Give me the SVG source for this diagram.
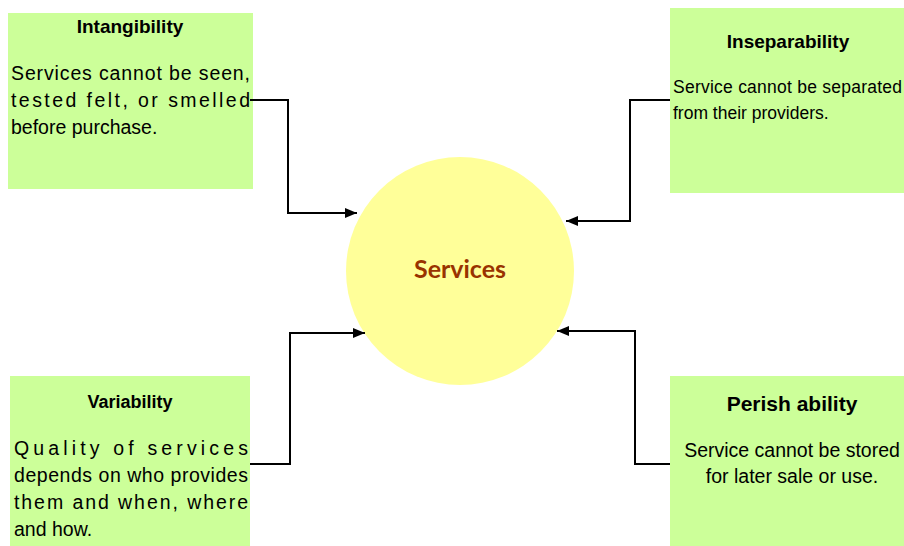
<svg xmlns="http://www.w3.org/2000/svg" width="904" height="546" viewBox="0 0 904 546">
<style>
.box{fill:#CCFF99;}
.t{font-family:"Liberation Sans",Arial,sans-serif;fill:#000;}
.b{font-weight:bold;}
.conn{fill:none;stroke:#000;stroke-width:2;}
</style>
<defs>
<marker id="arr" markerWidth="12" markerHeight="10" refX="12" refY="5" orient="auto" markerUnits="userSpaceOnUse">
<path d="M0,0 L12,5 L0,10 Z" fill="#000"/>
</marker>
</defs>
<rect width="904" height="546" fill="#fff"/>
<g id="services">
<circle cx="460" cy="271" r="114" fill="#FFFF99"/>
<text x="460" y="278" text-anchor="middle" font-family="Lato,'Open Sans',sans-serif" font-weight="bold" font-size="25" fill="#993300">Services</text>
</g>
<g id="intangibility">
<rect class="box" x="8" y="13" width="245" height="176"/>
<text class="t b" x="130" y="33" text-anchor="middle" font-size="19">Intangibility</text>
<text class="t" x="11" y="80" font-size="19.5" textLength="239" lengthAdjust="spacing">Services cannot be seen,</text>
<text class="t" x="11" y="107" font-size="19.5" textLength="239" lengthAdjust="spacing">tested felt, or smelled</text>
<text class="t" x="11" y="134" font-size="19.5">before purchase.</text>
</g>
<g id="inseparability">
<rect class="box" x="670" y="8" width="234" height="185"/>
<text class="t b" x="788" y="48" text-anchor="middle" font-size="19">Inseparability</text>
<text class="t" x="673" y="93" font-size="17.5" textLength="229" lengthAdjust="spacing">Service cannot be separated</text>
<text class="t" x="673" y="119" font-size="17.5">from their providers.</text>
</g>
<g id="variability">
<rect class="box" x="10" y="376" width="240" height="170"/>
<text class="t b" x="130" y="408" text-anchor="middle" font-size="18">Variability</text>
<text class="t" x="14" y="455" font-size="19.5" textLength="234" lengthAdjust="spacing">Quality of services</text>
<text class="t" x="14" y="482" font-size="19.5" textLength="234" lengthAdjust="spacing">depends on who provides</text>
<text class="t" x="14" y="509" font-size="19.5" textLength="234" lengthAdjust="spacing">them and when, where</text>
<text class="t" x="14" y="536" font-size="19.5">and how.</text>
</g>
<g id="perishability">
<rect class="box" x="670" y="376" width="234" height="170"/>
<text class="t b" x="792" y="411" text-anchor="middle" font-size="21">Perish ability</text>
<text class="t" x="792" y="457" text-anchor="middle" font-size="19.5">Service cannot be stored</text>
<text class="t" x="792" y="483" text-anchor="middle" font-size="19.5">for later sale or use.</text>
</g>
<g id="connectors">
<polyline class="conn" points="250,100 288,100 288,213 357,213" marker-end="url(#arr)"/>
<polyline class="conn" points="670,100 630,100 630,221 566,221" marker-end="url(#arr)"/>
<polyline class="conn" points="250,464 290,464 290,333 365,333" marker-end="url(#arr)"/>
<polyline class="conn" points="670,464 635,464 635,331 557,331" marker-end="url(#arr)"/>
</g>
</svg>
